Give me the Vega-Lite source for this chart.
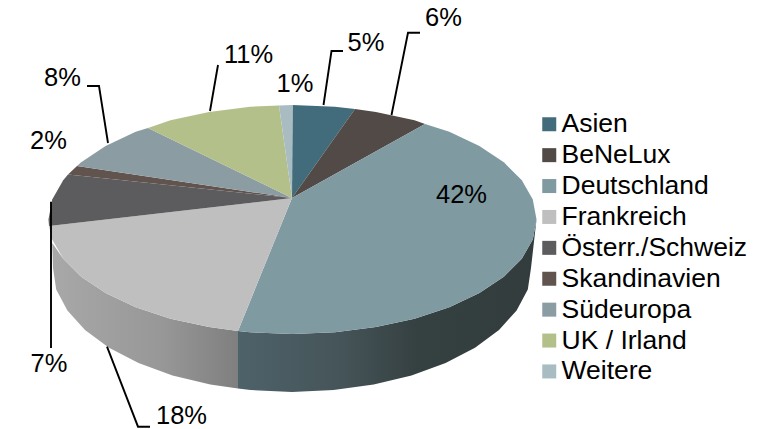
{"$schema":"https://vega.github.io/schema/vega-lite/v6.json","width":780,"height":429,"padding":0,"autosize":{"type":"none"},"background":"white","view":{"stroke":null},"config":{"font":"Liberation Sans"},
"datasets":{
"slices":[
{"s":"Asien","i":0,"x":292,"y":198},{"s":"Asien","i":1,"x":292.5,"y":105},{"s":"Asien","i":2,"x":334.9,"y":106.7},{"s":"Asien","i":3,"x":355,"y":109},
{"s":"BeNeLux","i":0,"x":292,"y":198},{"s":"BeNeLux","i":1,"x":355,"y":109},{"s":"BeNeLux","i":2,"x":375.9,"y":111.9},{"s":"BeNeLux","i":3,"x":414.5,"y":120.3},{"s":"BeNeLux","i":4,"x":425,"y":124},
{"s":"Deutschland","i":0,"x":292,"y":198},{"s":"Deutschland","i":1,"x":425,"y":124},{"s":"Deutschland","i":2,"x":449.3,"y":131.8},{"s":"Deutschland","i":3,"x":479.4,"y":145.9},{"s":"Deutschland","i":4,"x":503.8,"y":162.2},{"s":"Deutschland","i":5,"x":521.8,"y":180.3},{"s":"Deutschland","i":6,"x":532.8,"y":199.6},{"s":"Deutschland","i":7,"x":536.5,"y":219.5},{"s":"Deutschland","i":8,"x":532.8,"y":239.4},{"s":"Deutschland","i":9,"x":521.8,"y":258.7},{"s":"Deutschland","i":10,"x":503.8,"y":276.8},{"s":"Deutschland","i":11,"x":479.4,"y":293.1},{"s":"Deutschland","i":12,"x":449.3,"y":307.2},{"s":"Deutschland","i":13,"x":414.5,"y":318.7},{"s":"Deutschland","i":14,"x":375.9,"y":327.1},{"s":"Deutschland","i":15,"x":334.9,"y":332.3},{"s":"Deutschland","i":16,"x":292.5,"y":334},{"s":"Deutschland","i":17,"x":250.1,"y":332.3},{"s":"Deutschland","i":18,"x":238,"y":331},
{"s":"Frankreich","i":0,"x":292,"y":198},{"s":"Frankreich","i":1,"x":238,"y":331},{"s":"Frankreich","i":2,"x":209.1,"y":327.1},{"s":"Frankreich","i":3,"x":170.5,"y":318.7},{"s":"Frankreich","i":4,"x":135.7,"y":307.2},{"s":"Frankreich","i":5,"x":105.6,"y":293.1},{"s":"Frankreich","i":6,"x":81.2,"y":276.8},{"s":"Frankreich","i":7,"x":63.2,"y":258.7},{"s":"Frankreich","i":8,"x":52.2,"y":239.4},{"s":"Frankreich","i":9,"x":49,"y":226},
{"s":"Österr./Schweiz","i":0,"x":292,"y":198},{"s":"Österr./Schweiz","i":1,"x":49,"y":226},{"s":"Österr./Schweiz","i":2,"x":48.5,"y":219.5},{"s":"Österr./Schweiz","i":3,"x":52.2,"y":199.6},{"s":"Österr./Schweiz","i":4,"x":63.2,"y":180.3},{"s":"Österr./Schweiz","i":5,"x":68,"y":174.5},
{"s":"Skandinavien","i":0,"x":292,"y":198},{"s":"Skandinavien","i":1,"x":68,"y":174.5},{"s":"Skandinavien","i":2,"x":77,"y":166},
{"s":"Südeuropa","i":0,"x":292,"y":198},{"s":"Südeuropa","i":1,"x":77,"y":166},{"s":"Südeuropa","i":2,"x":81.2,"y":162.2},{"s":"Südeuropa","i":3,"x":105.6,"y":145.9},{"s":"Südeuropa","i":4,"x":135.7,"y":131.8},{"s":"Südeuropa","i":5,"x":148,"y":128},
{"s":"UK / Irland","i":0,"x":292,"y":198},{"s":"UK / Irland","i":1,"x":148,"y":128},{"s":"UK / Irland","i":2,"x":170.5,"y":120.3},{"s":"UK / Irland","i":3,"x":209.1,"y":111.9},{"s":"UK / Irland","i":4,"x":250.1,"y":106.7},{"s":"UK / Irland","i":5,"x":279,"y":105.5},
{"s":"Weitere","i":0,"x":292,"y":198},{"s":"Weitere","i":1,"x":279,"y":105.5},{"s":"Weitere","i":2,"x":292.5,"y":105}
],
"wallD":[
{"i":0,"x":238,"y":331},{"i":1,"x":250.1,"y":332.3},{"i":2,"x":292.5,"y":334},{"i":3,"x":334.9,"y":332.3},{"i":4,"x":375.9,"y":327.1},{"i":5,"x":414.5,"y":318.7},{"i":6,"x":449.3,"y":307.2},{"i":7,"x":479.4,"y":293.1},{"i":8,"x":503.8,"y":276.8},{"i":9,"x":521.8,"y":258.7},{"i":10,"x":532.8,"y":239.4},{"i":11,"x":536.5,"y":219.5},{"i":12,"x":531,"y":268},{"i":13,"x":527.8,"y":289.5},{"i":14,"x":516.6,"y":310.4},{"i":15,"x":499,"y":330},{"i":16,"x":475,"y":347.7},{"i":17,"x":445.6,"y":363},{"i":18,"x":411.5,"y":375.4},{"i":19,"x":373.7,"y":384.5},{"i":20,"x":333.5,"y":390.1},{"i":21,"x":292,"y":392},{"i":22,"x":250.5,"y":390.1},{"i":23,"x":238,"y":388.5}
],
"wallF":[
{"i":0,"x":238,"y":331},{"i":1,"x":209.1,"y":327.1},{"i":2,"x":170.5,"y":318.7},{"i":3,"x":135.7,"y":307.2},{"i":4,"x":105.6,"y":293.1},{"i":5,"x":81.2,"y":276.8},{"i":6,"x":63.2,"y":258.7},{"i":7,"x":52.2,"y":243},{"i":8,"x":53,"y":268},{"i":9,"x":56.2,"y":289.5},{"i":10,"x":67.4,"y":310.4},{"i":11,"x":85,"y":330},{"i":12,"x":109,"y":347.7},{"i":13,"x":138.5,"y":363},{"i":14,"x":172.5,"y":375.4},{"i":15,"x":210.3,"y":384.5},{"i":16,"x":238,"y":388.5}
],
"leaders":[
{"l":"5%","i":0,"x":323.5,"y":105},{"l":"5%","i":1,"x":331.5,"y":51},{"l":"5%","i":2,"x":343,"y":51},
{"l":"6%","i":0,"x":391.5,"y":115},{"l":"6%","i":1,"x":408,"y":32.7},{"l":"6%","i":2,"x":420,"y":32.7},
{"l":"11%","i":0,"x":210,"y":111},{"l":"11%","i":1,"x":218,"y":65},
{"l":"8%","i":0,"x":108,"y":143},{"l":"8%","i":1,"x":99,"y":86},{"l":"8%","i":2,"x":87,"y":86},
{"l":"7%","i":0,"x":51,"y":201.7},{"l":"7%","i":1,"x":51,"y":348},
{"l":"18%","i":0,"x":107,"y":346.7},{"l":"18%","i":1,"x":138,"y":426.7},{"l":"18%","i":2,"x":150,"y":426.7}
],
"labels":[
{"t":"5%","x":366,"y":43},{"t":"6%","x":443.5,"y":18},{"t":"1%","x":295,"y":84},{"t":"11%","x":248.5,"y":55},{"t":"8%","x":62.5,"y":78},{"t":"2%","x":48.5,"y":141},{"t":"7%","x":49,"y":364},{"t":"18%","x":181.5,"y":416},{"t":"42%","x":461.5,"y":195}
]},
"encoding":{
"x":{"field":"x","type":"quantitative","scale":{"domain":[0,780]},"axis":null},
"y":{"field":"y","type":"quantitative","scale":{"domain":[429,0]},"axis":null}
},
"layer":[
{"data":{"name":"wallD"},"mark":{"type":"line","strokeWidth":0,"fill":{"gradient":"linear","x1":0,"y1":0,"x2":1,"y2":0,"stops":[{"offset":0,"color":"#4e626a"},{"offset":0.35,"color":"#455458"},{"offset":0.6,"color":"#354041"},{"offset":1,"color":"#323c3d"}]}},"encoding":{"order":{"field":"i","type":"quantitative"}}},
{"data":{"name":"wallF"},"mark":{"type":"line","strokeWidth":0,"fill":{"gradient":"linear","x1":0,"y1":0,"x2":1,"y2":0,"stops":[{"offset":0,"color":"#a8a8a8"},{"offset":0.6,"color":"#979797"},{"offset":1,"color":"#7f7f7f"}]}},"encoding":{"order":{"field":"i","type":"quantitative"}}},
{"data":{"name":"slices"},"mark":{"type":"line","strokeWidth":0},
"encoding":{"order":{"field":"i","type":"quantitative"},
"fill":{"field":"s","type":"nominal","title":null,"sort":null,
"scale":{"domain":["Asien","BeNeLux","Deutschland","Frankreich","Österr./Schweiz","Skandinavien","Südeuropa","UK / Irland","Weitere"],"range":["#426c7b","#524a46","#7f9aa1","#bfbfbf","#5c5c5e","#61544f","#8c9ca3","#b4c08a","#a9bcc2"]},
"legend":{"orient":"none","legendX":536,"legendY":111,"symbolType":"square","symbolSize":196,"symbolStrokeWidth":0,"symbolOpacity":1,"labelFontSize":26.5,"labelFont":"Liberation Sans","labelColor":"#000000","labelOffset":-1,"rowPadding":3.9,"padding":0,"labelLimit":300}}}},
{"data":{"name":"leaders"},"mark":{"type":"line","stroke":"#000000","strokeWidth":1.9},"encoding":{"detail":{"field":"l"},"order":{"field":"i","type":"quantitative"}}},
{"data":{"name":"labels"},"mark":{"type":"text","fontSize":25.5,"font":"Liberation Sans","color":"#000000","align":"center","baseline":"middle"},"encoding":{"text":{"field":"t"}}}
]}
